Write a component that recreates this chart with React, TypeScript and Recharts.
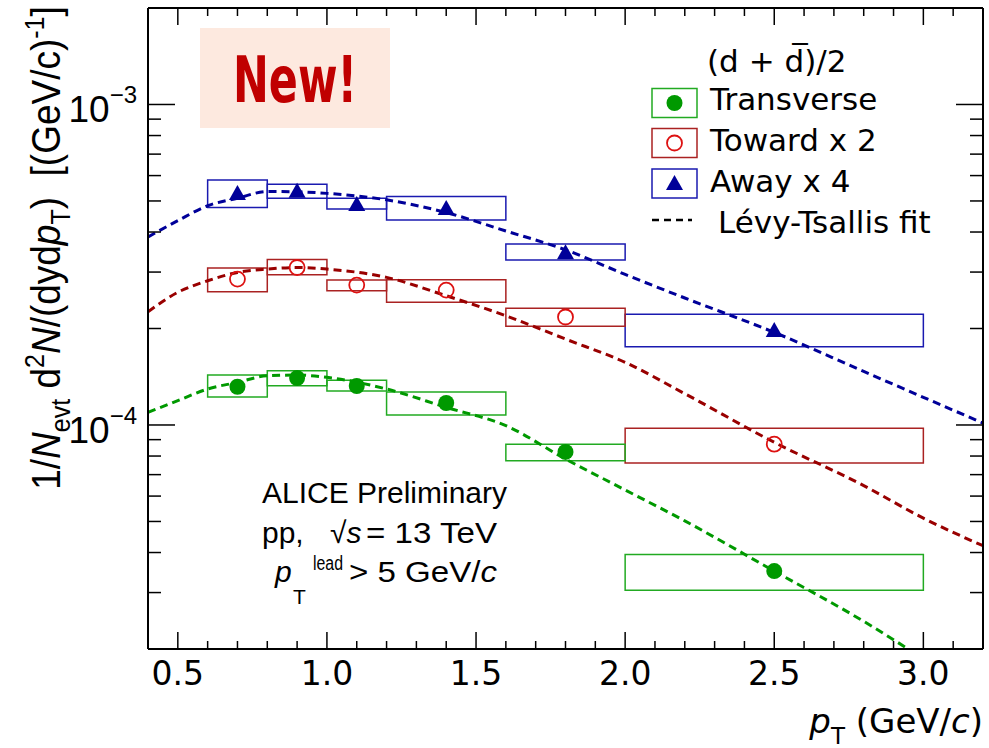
import React from 'react';
import { ComposedChart, XAxis, YAxis, Line, Scatter, ReferenceArea } from 'recharts';

// bin centres and edges (pT, GeV/c)
const ptCenters = [0.7, 0.9, 1.1, 1.4, 1.8, 2.5];
const binLow = [0.6, 0.8, 1.0, 1.2, 1.6, 2.0];
const binHigh = [0.8, 1.0, 1.2, 1.6, 2.0, 3.0];

// Transverse
const transverseY = [1.316e-4, 1.401e-4, 1.323e-4, 1.171e-4, 8.24e-5, 3.5e-5];
const transverseSysHi = [1.432e-4, 1.477e-4, 1.378e-4, 1.267e-4, 8.71e-5, 3.94e-5];
const transverseSysLo = [1.223e-4, 1.326e-4, 1.276e-4, 1.074e-4, 7.74e-5, 3.05e-5];

// Toward x 2
const towardY = [2.852e-4, 3.1e-4, 2.732e-4, 2.636e-4, 2.172e-4, 8.71e-5];
const towardSysHi = [3.088e-4, 3.286e-4, 2.832e-4, 2.838e-4, 2.312e-4, 9.77e-5];
const towardSysLo = [2.604e-4, 2.942e-4, 2.623e-4, 2.413e-4, 2.032e-4, 7.61e-5];

// Away x 4
const awayY = [5.29e-4, 5.38e-4, 4.89e-4, 4.75e-4, 3.46e-4, 1.978e-4];
const awaySysHi = [5.81e-4, 5.64e-4, 5.1e-4, 5.16e-4, 3.67e-4, 2.214e-4];
const awaySysLo = [4.77e-4, 5.1e-4, 4.72e-4, 4.36e-4, 3.27e-4, 1.754e-4];

// Levy-Tsallis fits
const fitPt = [0.4, 0.5, 0.6, 0.7, 0.8, 0.9, 1.0, 1.2, 1.4, 1.6, 1.8, 2.0, 2.2, 2.5, 2.8, 3.0, 3.2];
const fitTransverse = [1.095e-4, 1.191e-4, 1.295e-4, 1.358e-4, 1.424e-4, 1.431e-4, 1.408e-4, 1.295e-4, 1.135e-4, 9.95e-5, 7.83e-5, 6.27e-5, 5.02e-5, 3.5e-5, 2.44e-5, 1.87e-5, 1.45e-5];
const fitToward = [2.256e-4, 2.594e-4, 2.818e-4, 2.992e-4, 3.065e-4, 3.1e-4, 3.065e-4, 2.887e-4, 2.531e-4, 2.192e-4, 1.854e-4, 1.568e-4, 1.252e-4, 8.83e-5, 6.47e-5, 5.12e-5, 4.2e-5];
const fitAway = [3.86e-4, 4.34e-4, 4.83e-4, 5.1e-4, 5.35e-4, 5.34e-4, 5.28e-4, 5.04e-4, 4.6e-4, 4.03e-4, 3.52e-4, 2.95e-4, 2.49e-4, 1.945e-4, 1.469e-4, 1.22e-4, 1.014e-4];

const xTicks = [0.5, 0.6, 0.7, 0.8, 0.9, 1.0, 1.1, 1.2, 1.3, 1.4, 1.5, 1.6, 1.7, 1.8, 1.9, 2.0, 2.1, 2.2, 2.3, 2.4, 2.5, 2.6, 2.7, 2.8, 2.9, 3.0, 3.1];
const yTicks = [3e-5, 4e-5, 5e-5, 6e-5, 7e-5, 8e-5, 9e-5, 1e-4, 2e-4, 3e-4, 4e-4, 5e-4, 6e-4, 7e-4, 8e-4, 9e-4, 1e-3];

const GREEN = '#009900';
const GREEN_BOX = '#22aa22';
const RED_FIT = '#990000';
const RED_BOX = '#aa2222';
const RED_MARK = '#dd1111';
const BLUE = '#000099';
const BLUE_BOX = '#1a1ab0';

const AXIS_FONT = "'DejaVu Sans', sans-serif";
const TEXT_FONT = "'Liberation Sans', Arial, sans-serif";

const isMajorX = (v: number) => Math.abs(v * 2 - Math.round(v * 2)) < 1e-6;
const isMajorY = (v: number) => Math.abs(Math.log10(v) - Math.round(Math.log10(v))) < 1e-6;

function BottomTick(props: any) {
  const { x, y, payload } = props;
  const major = isMajorX(payload.value);
  return (
    <g>
      <line x1={x} x2={x} y1={y} y2={y - (major ? 17 : 8)} stroke="#000" strokeWidth={1.5} />
      {major && (
        <text x={x} y={y + 36} textAnchor="middle" fontFamily={AXIS_FONT} fontSize={33} fill="#000">
          {payload.value.toFixed(1)}
        </text>
      )}
    </g>
  );
}

function TopTick(props: any) {
  const { x, y, payload } = props;
  const major = isMajorX(payload.value);
  return <line x1={x} x2={x} y1={y} y2={y + (major ? 17 : 8)} stroke="#000" strokeWidth={1.5} />;
}

function LeftTick(props: any) {
  const { x, y, payload } = props;
  const major = isMajorY(payload.value);
  const exp = Math.round(Math.log10(payload.value));
  return (
    <g>
      <line x1={x} x2={x + (major ? 27 : 13)} y1={y} y2={y} stroke="#000" strokeWidth={1.5} />
      {major && (
        <text x={x - 11} y={y + 18} textAnchor="end" fontFamily={TEXT_FONT} fontSize={37} fill="#000">
          10<tspan fontSize={24} dy={-19}>{'\u2212' + Math.abs(exp)}</tspan>
        </text>
      )}
    </g>
  );
}

function RightTick(props: any) {
  const { x, y, payload } = props;
  const major = isMajorY(payload.value);
  return <line x1={x} x2={x - (major ? 27 : 13)} y1={y} y2={y} stroke="#000" strokeWidth={1.5} />;
}

const FilledCircle = (p: any) => <circle cx={p.cx} cy={p.cy} r={8} fill={GREEN} />;
const OpenCircle = (p: any) => (
  <circle cx={p.cx} cy={p.cy} r={7.5} fill="none" stroke={RED_MARK} strokeWidth={1.8} />
);
const Triangle = (p: any) => (
  <polygon
    points={`${p.cx},${p.cy - 8} ${p.cx - 8.5},${p.cy + 7} ${p.cx + 8.5},${p.cy + 7}`}
    fill={BLUE}
  />
);

const toPoints = (xs: number[], ys: number[]) => xs.map((x, i) => ({ x, y: ys[i] }));

export default function App() {
  const series = [
    { name: 'away', y: awayY, hi: awaySysHi, lo: awaySysLo, box: BLUE_BOX, fit: fitAway, fitColor: BLUE, shape: Triangle },
    { name: 'toward', y: towardY, hi: towardSysHi, lo: towardSysLo, box: RED_BOX, fit: fitToward, fitColor: RED_FIT, shape: OpenCircle },
    { name: 'transverse', y: transverseY, hi: transverseSysHi, lo: transverseSysLo, box: GREEN_BOX, fit: fitTransverse, fitColor: GREEN, shape: FilledCircle },
  ];

  return (
    <div style={{ position: 'absolute', left: 0, top: 0, width: 989, height: 748, background: '#fff' }}>
      <ComposedChart width={989} height={748} margin={{ top: 7, right: 5, bottom: 0, left: 0 }}>
        <XAxis
          dataKey="x"
          type="number"
          domain={[0.4, 3.2]}
          allowDataOverflow
          ticks={xTicks}
          interval={0}
          height={99}
          tickSize={0}
          tickMargin={0}
          tickLine={false}
          tick={<BottomTick />}
          axisLine={{ stroke: '#000', strokeWidth: 2 }}
        />
        <XAxis
          xAxisId="top"
          orientation="top"
          dataKey="x"
          type="number"
          domain={[0.4, 3.2]}
          allowDataOverflow
          ticks={xTicks}
          interval={0}
          height={1}
          tickSize={0}
          tickMargin={0}
          tickLine={false}
          tick={<TopTick />}
          axisLine={{ stroke: '#000', strokeWidth: 2 }}
        />
        <YAxis
          dataKey="y"
          type="number"
          scale="log"
          domain={[2e-5, 2e-3]}
          allowDataOverflow
          ticks={yTicks}
          interval={0}
          width={148}
          tickSize={0}
          tickMargin={0}
          tickLine={false}
          tick={<LeftTick />}
          axisLine={{ stroke: '#000', strokeWidth: 2 }}
        />
        <YAxis
          yAxisId="right"
          orientation="right"
          dataKey="y"
          type="number"
          scale="log"
          domain={[2e-5, 2e-3]}
          allowDataOverflow
          ticks={yTicks}
          interval={0}
          width={1}
          tickSize={0}
          tickMargin={0}
          tickLine={false}
          tick={<RightTick />}
          axisLine={{ stroke: '#000', strokeWidth: 2 }}
        />

        {series.map((s) =>
          binLow.map((lo, i) => (
            <ReferenceArea
              key={`${s.name}-box-${i}`}
              x1={lo}
              x2={binHigh[i]}
              y1={s.lo[i]}
              y2={s.hi[i]}
              fill="none"
              fillOpacity={0}
              stroke={s.box}
              strokeWidth={1.5}
              ifOverflow="visible"
            />
          ))
        )}

        {series.map((s) => (
          <Line
            key={`${s.name}-fit`}
            data={toPoints(fitPt, s.fit)}
            dataKey="y"
            type="monotone"
            stroke={s.fitColor}
            strokeWidth={3}
            strokeDasharray="8 5"
            dot={false}
            activeDot={false}
            isAnimationActive={false}
          />
        ))}

        {/* invisible copy bound to the mirrored top/right axes so they get drawn */}
        <Line
          xAxisId="top"
          yAxisId="right"
          data={toPoints(fitPt, fitAway)}
          dataKey="y"
          stroke="none"
          dot={false}
          activeDot={false}
          isAnimationActive={false}
        />

        {series.map((s) => (
          <Scatter
            key={`${s.name}-pts`}
            data={toPoints(ptCenters, s.y)}
            dataKey="y"
            shape={s.shape}
            isAnimationActive={false}
          />
        ))}
      </ComposedChart>

      <svg
        width={989}
        height={748}
        style={{ position: 'absolute', left: 0, top: 0, pointerEvents: 'none' }}
      >
        {/* New! badge */}
        <rect x={200} y={28} width={190} height={100} fill="#fde9df" />
        <text
          x={233}
          y={102}
          fontFamily="'Liberation Sans Narrow', 'DejaVu Sans Condensed', 'Liberation Sans', sans-serif"
          fontWeight="bold"
          fontSize={64}
          fill="#c00000"
          textLength={124}
          lengthAdjust="spacingAndGlyphs"
        >
          New!
        </text>

        {/* legend */}
        <text x={707} y={72} fontFamily={AXIS_FONT} fontSize={31} fill="#000">
          (d + d{'\u0305'})/2
        </text>
        <rect x={652} y={88.5} width={45} height={29} fill="#fff" stroke={GREEN_BOX} strokeWidth={1.5} />
        <circle cx={674.5} cy={103} r={8} fill={GREEN} />
        <text x={710} y={110} fontFamily={AXIS_FONT} fontSize={31} fill="#000">Transverse</text>

        <rect x={652} y={128.5} width={45} height={29} fill="#fff" stroke={RED_BOX} strokeWidth={1.5} />
        <circle cx={674.5} cy={143} r={7.5} fill="none" stroke={RED_MARK} strokeWidth={1.8} />
        <text x={710} y={151} fontFamily={AXIS_FONT} fontSize={31} fill="#000">Toward x 2</text>

        <rect x={652} y={169} width={45} height={29} fill="#fff" stroke={BLUE_BOX} strokeWidth={1.5} />
        <polygon points="674.5,175 666,190 683,190" fill={BLUE} />
        <text x={710} y={192} fontFamily={AXIS_FONT} fontSize={31} fill="#000">Away x 4</text>

        <line x1={652} x2={692} y1={220} y2={220} stroke="#000" strokeWidth={2.5} strokeDasharray="7 5" />
        <text x={718} y={233} fontFamily={AXIS_FONT} fontSize={31} fill="#000">Lévy-Tsallis fit</text>

        {/* collaboration text */}
        <text x={262} y={503} fontFamily={TEXT_FONT} fontSize={30} fill="#000" textLength={245} lengthAdjust="spacingAndGlyphs">
          ALICE Preliminary
        </text>
        <text x={262} y={543} fontFamily={TEXT_FONT} fontSize={30} fill="#000">pp,</text>
        <text x={330} y={543} fontFamily={TEXT_FONT} fontSize={30} fill="#000">
          √<tspan fontStyle="italic">s</tspan>
        </text>
        <text x={366} y={543} fontFamily={TEXT_FONT} fontSize={30} fill="#000" textLength={131} lengthAdjust="spacingAndGlyphs">
          = 13 TeV
        </text>
        <text x={275} y={582} fontFamily={TEXT_FONT} fontSize={30} fontStyle="italic" fill="#000">p</text>
        <text x={293} y={604} fontFamily={TEXT_FONT} fontSize={21} fill="#000">T</text>
        <text x={313} y={570} fontFamily={TEXT_FONT} fontSize={20} fill="#000" textLength={30} lengthAdjust="spacingAndGlyphs">lead</text>
        <text x={349} y={582} fontFamily={TEXT_FONT} fontSize={30} fill="#000" textLength={148} lengthAdjust="spacingAndGlyphs">
          {'> 5 GeV/'}<tspan fontStyle="italic">c</tspan>
        </text>

        {/* axis titles */}
        <text x={983} y={733} textAnchor="end" fontFamily={AXIS_FONT} fontSize={34} fill="#000">
          <tspan fontStyle="italic">p</tspan>
          <tspan fontSize={23} dy={11}>T</tspan>
          <tspan dy={-11}>{' (GeV/'}</tspan>
          <tspan fontStyle="italic">c</tspan>
          <tspan>)</tspan>
        </text>

        <text
          transform="translate(60, 248) scale(1.1, 1) rotate(-90)"
          textAnchor="middle"
          fontFamily={TEXT_FONT}
          fontSize={37}
          fill="#000"
        >
          <tspan>1/</tspan>
          <tspan fontStyle="italic">N</tspan>
          <tspan fontSize={25} dy={9}>evt</tspan>
          <tspan dy={-9}>{'\u00a0d'}</tspan>
          <tspan fontSize={25} dy={-15}>2</tspan>
          <tspan fontStyle="italic" dy={15}>N</tspan>
          <tspan>/(dyd</tspan>
          <tspan fontStyle="italic">p</tspan>
          <tspan fontSize={25} dy={9}>T</tspan>
          <tspan dy={-9}>{')\u00a0\u00a0[(GeV/c)'}</tspan>
          <tspan fontSize={25} dy={-15}>-1</tspan>
          <tspan dy={15}>]</tspan>
        </text>
      </svg>
    </div>
  );
}
